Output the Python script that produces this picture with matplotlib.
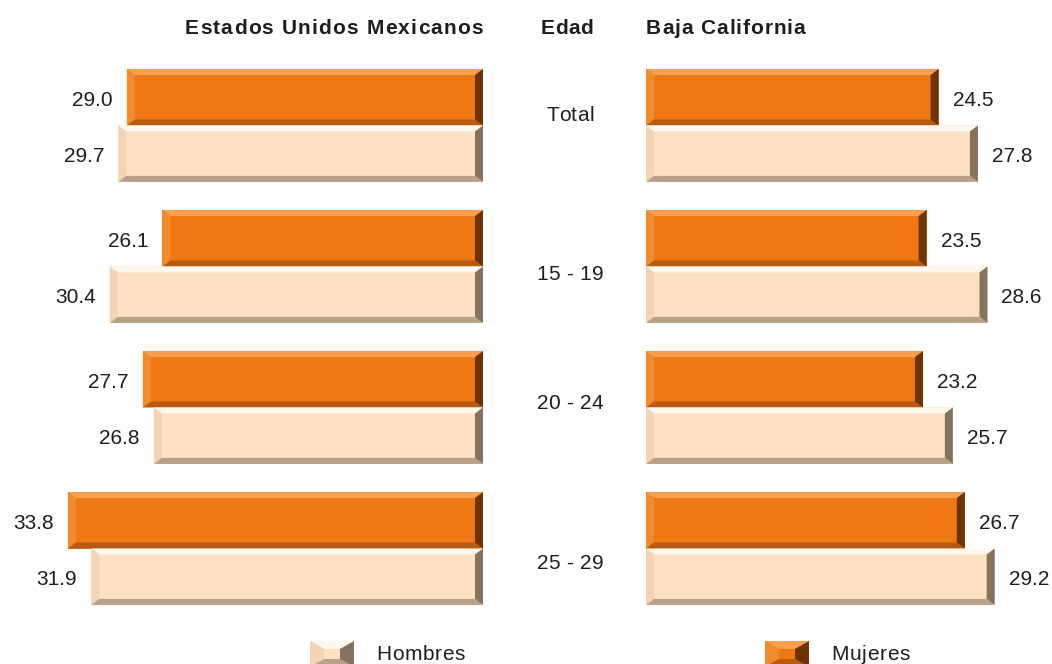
import matplotlib
matplotlib.use('Agg')
import matplotlib.pyplot as plt
from matplotlib.patches import Polygon, Rectangle
from matplotlib.transforms import IdentityTransform
from matplotlib.font_manager import FontProperties

plt.rcParams['font.family'] = ['Liberation Sans', 'DejaVu Sans']

edades = ['Total', '15 - 19', '20 - 24', '25 - 29']
mex_mujeres = [29.0, 26.1, 27.7, 33.8]
mex_hombres = [29.7, 30.4, 26.8, 31.9]
bc_mujeres = [24.5, 23.5, 23.2, 26.7]
bc_hombres = [27.8, 28.6, 25.7, 29.2]

W, H = 1052, 664
fig = plt.figure(figsize=(W / 100, H / 100), dpi=100)

# colores: cara, arriba, izquierda, abajo, derecha
col_muj = ['#F07814', '#F8A050', '#F28A2E', '#B85A12', '#6E3408']
col_hom = ['#FDE1C2', '#FFF8EE', '#F4D4B2', '#B8A08A', '#85735F']
txt_col = '#1e1e1e'

top_px, bot_px = 40, 620
ylo, yhi = -0.606, 3.507
ax_b = (H - bot_px) / H
ax_h = (bot_px - top_px) / H
axL = fig.add_axes([0, ax_b, 483 / W, ax_h])
axR = fig.add_axes([646 / W, ax_b, 406 / W, ax_h])
axL.set_xlim(483 / 12.28, 0)
axR.set_xlim(0, 406 / 11.94)
for ax in (axL, axR):
  ax.set_ylim(yhi, ylo)
  ax.axis('off')

pos = list(range(len(edades)))
ym = [p - 0.2 for p in pos]
yh = [p + 0.2 for p in pos]

barsL = [axL.barh(ym, mex_mujeres, height=0.4, color=col_muj[0]),
         axL.barh(yh, mex_hombres, height=0.4, color=col_hom[0])]
barsR = [axR.barh(ym, bc_mujeres, height=0.4, color=col_muj[0]),
         axR.barh(yh, bc_hombres, height=0.4, color=col_hom[0])]

for ys, vals in ((ym, mex_mujeres), (yh, mex_hombres)):
  for y, v in zip(ys, vals):
    axL.annotate(f'{v:.1f}', (v, y), xytext=(-14, -3), textcoords='offset pixels',
                 ha='right', va='center', fontsize=15, color=txt_col)
for ys, vals in ((ym, bc_mujeres), (yh, bc_hombres)):
  for y, v in zip(ys, vals):
    axR.annotate(f'{v:.1f}', (v, y), xytext=(14, -3), textcoords='offset pixels',
                 ha='left', va='center', fontsize=15, color=txt_col)


def bevel(x0, y0, x1, y1, cols, bx, by, z=5):
  parts = [
    [(x0, y1), (x1, y1), (x1 - bx, y1 - by), (x0 + bx, y1 - by)],
    [(x0, y0), (x0, y1), (x0 + bx, y1 - by), (x0 + bx, y0 + by)],
    [(x0, y0), (x1, y0), (x1 - bx, y0 + by), (x0 + bx, y0 + by)],
    [(x1, y0), (x1, y1), (x1 - bx, y1 - by), (x1 - bx, y0 + by)],
  ]
  for pts, c in zip(parts, cols[1:]):
    fig.add_artist(Polygon(pts, closed=True, facecolor=c, edgecolor='none',
                           transform=IdentityTransform(), zorder=z))


fig.canvas.draw()
r = fig.canvas.get_renderer()


def tracked(xpx, ypx, s, size, track, ha='left', weight='normal'):
  # texto con espaciado entre letras, coordenadas en pixeles desde arriba
  fp = FontProperties(family=['Liberation Sans', 'DejaVu Sans'], size=size, weight=weight)
  base = r.get_text_width_height_descent('||', fp, ismath=False)[0]
  ws = [r.get_text_width_height_descent('|' + c + '|', fp, ismath=False)[0] - base for c in s]
  total = sum(ws) + track * (len(s) - 1)
  if ha == 'center':
    x = xpx - total / 2
  elif ha == 'right':
    x = xpx - total
  else:
    x = xpx
  for c, w in zip(s, ws):
    if c != ' ':
      fig.text(x / W, 1 - ypx / H, c, ha='left', va='center', fontproperties=fp, color=txt_col)
    x += w + track


for bars in (barsL, barsR):
  for cont, cols in zip(bars, (col_muj, col_hom)):
    for p in cont.patches:
      bb = p.get_window_extent(r)
      bevel(bb.x0, bb.y0, bb.x1, bb.y1, cols, 8, 6)

# etiquetas de edad
lab_dy = [-10, 8, -4, 15]
for i, (e, dy) in enumerate(zip(edades, lab_dy)):
  tracked(570, 125.5 + 141 * i + dy, e, 15, 0.3, ha='center')

# titulos
tracked(483, 28, 'Estados Unidos Mexicanos', 15, 1.2, ha='right', weight='bold')
tracked(567, 29, 'Edad', 15, 0.3, ha='center', weight='bold')
tracked(646, 28, 'Baja California', 15, 0.9, ha='left', weight='bold')

# leyenda
for x0, cols, txt, tx in ((310, col_hom, 'Hombres', 376), (765, col_muj, 'Mujeres', 831)):
  fig.add_artist(Rectangle((x0, -3), 44, 26, facecolor=cols[0], edgecolor='none',
                           transform=IdentityTransform(), zorder=5))
  bevel(x0, -3, x0 + 44, 23, cols, 14, 8)
  tracked(tx, 655, txt, 15, 0.7, ha='left')

fig.savefig('out.png', dpi=100)
